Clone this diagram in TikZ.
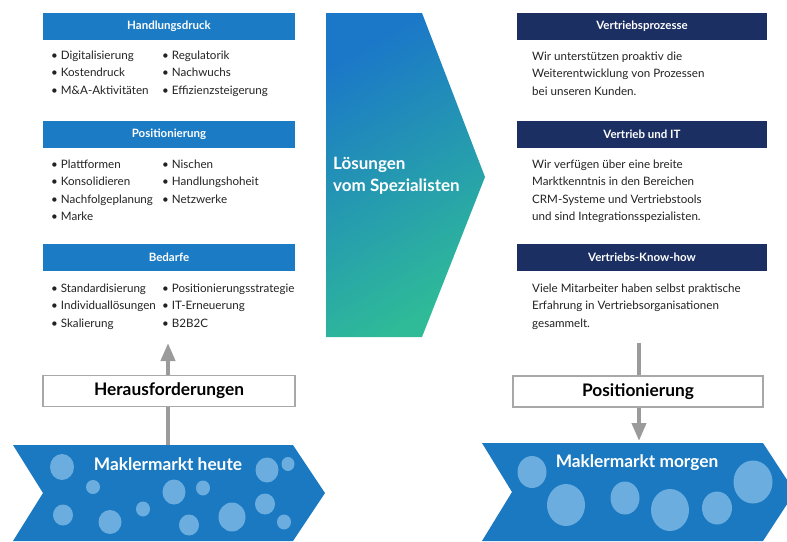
\documentclass[tikz,border=0pt]{standalone}
\usepackage{fontspec}
\setmainfont{Lato}
\usetikzlibrary{arrows.meta}

\definecolor{hdrblue}{HTML}{1B7BC4}
\definecolor{navy}{HTML}{1C2F63}
\definecolor{chevblue}{HTML}{1A79C0}
\definecolor{bubble}{HTML}{6CADE0}
\definecolor{gradtop}{HTML}{1B78C8}
\definecolor{gradbot}{HTML}{2FBB98}
\definecolor{txt}{HTML}{222222}
\definecolor{arrowgray}{HTML}{9B9B9B}
\definecolor{boxgray}{HTML}{A8A8A8}

\begin{document}
\begin{tikzpicture}[x=1pt,y=-1pt,
  hdr/.style={fill=hdrblue, text=white, inner sep=0pt, minimum height=27pt,
    font=\bfseries\fontsize{11.5}{13}\selectfont},
  hdrdark/.style={hdr, fill=navy},
  lst/.style={anchor=north west, inner sep=0pt, align=left, text=txt,
    font=\fontsize{11.6}{17.2}\selectfont},
  bigbox/.style={draw=boxgray, line width=1.5pt, fill=white, inner sep=0pt,
    minimum height=31pt, text=black, font=\bfseries\fontsize{17.3}{19}\selectfont},
  chevtext/.style={text=white, inner sep=0pt, font=\bfseries\fontsize{17.3}{19}\selectfont},
  flow/.style={draw=arrowgray, line width=4pt,
    -{Triangle[length=18pt,width=14pt]}},
  dot/.style={fill=bubble}
]
\useasboundingbox (0,0) rectangle (787,541);

% ---------- left column: challenges ----------
\node[hdr, minimum width=252pt] (hd) at (169,26) {Handlungsdruck};
\node[lst] (hdl) at (51,51) {• Digitalisierung\\• Kostendruck\\• M\&A-Aktivitäten};
\node[lst] (hdr) at (162,51) {• Regulatorik\\• Nachwuchs\\• Effizienzsteigerung};

\node[hdr, minimum width=252pt] (po) at (169,134) {Positionierung};
\node[lst] (pol) at (51,160) {• Plattformen\\• Konsolidieren\\• Nachfolgeplanung\\• Marke};
\node[lst] (por) at (162,160) {• Nischen\\• Handlungshoheit\\• Netzwerke};

\node[hdr, minimum width=252pt] (be) at (169,257) {Bedarfe};
\node[lst] (bel) at (51,284) {• Standardisierung\\• Individuallösungen\\• Skalierung};
\node[lst] (ber) at (162,284) {• Positionierungsstrategie\\• IT-Erneuerung\\• B2B2C};

% ---------- market today ----------
\coordinate (heute-top) at (168,445);
\coordinate (bedarfe-end) at (168,343);
\fill[chevblue] (13,445) -- (293,445) -- (325,493) -- (293,541) -- (13,541) -- (43,493) -- cycle;
\foreach \cx/\cy/\rx/\ry in {62/467/12/13, 93/487/7/7, 63/515/10/10.5, 110/522/11.5/12,
  143/509/7/7.5, 174/492/11.5/12.5, 203/488/7/7.5, 189/525/10/10.5, 232/517/13.5/14.5,
  267/470/11.5/12.5, 288/464/6.5/7, 265/504/10/10.5, 284/522/7/7.5}
  \fill[dot] (\cx,\cy) ellipse [x radius=\rx, y radius=\ry];
\node[chevtext] (heute) at (168,464) {Maklermarkt heute};

\draw[flow] (heute-top) -- (bedarfe-end);
\node[bigbox, minimum width=252pt] (her) at (169,391) {Herausforderungen};

% ---------- centre: solutions ----------
\shade[top color=gradtop, bottom color=gradbot, shading angle=30]
  (326,13) -- (422,13) -- (485,177) -- (422,337) -- (326,337) -- cycle;
\node[chevtext, anchor=west, align=left, font=\bfseries\fontsize{17}{22}\selectfont]
  (loes) at (333,176) {Lösungen\\vom Spezialisten};

% ---------- right column: offer ----------
\node[hdrdark, minimum width=250pt] (vp) at (642,26) {Vertriebsprozesse};
\node[lst] (vpt) at (532,52) {Wir unterstützen proaktiv die\\Weiterentwicklung von Prozessen\\bei unseren Kunden.};

\node[hdrdark, minimum width=250pt] (vi) at (642,134) {Vertrieb und IT};
\node[lst] (vit) at (532,160) {Wir verfügen über eine breite\\Marktkenntnis in den Bereichen\\CRM-Systeme und Vertriebstools\\und sind Integrationsspezialisten.};

\node[hdrdark, minimum width=250pt] (vk) at (642,257.5) {Vertriebs-Know-how};
\node[lst] (vkt) at (532,284) {Viele Mitarbeiter haben selbst praktische\\Erfahrung in Vertriebsorganisationen\\gesammelt.};

% ---------- market tomorrow ----------
\coordinate (know-end) at (639,343);
\coordinate (morgen-top) at (639,441);
\fill[chevblue] (482,443) -- (763,443) -- (795,492) -- (763,541) -- (482,541) -- (512,492) -- cycle;
\foreach \cx/\cy/\rx/\ry in {532/472/14.5/16, 566/505/19/21, 625/498/14.5/16.5,
  670/510/19/21, 717/508/15/16.5, 753/482/19.5/21.5}
  \fill[dot] (\cx,\cy) ellipse [x radius=\rx, y radius=\ry];
\node[chevtext] (morgen) at (637,463) {Maklermarkt morgen};

\draw[flow] (know-end) -- (morgen-top);
\node[bigbox, minimum width=250pt] (pos) at (638,391.5) {Positionierung};
\end{tikzpicture}
\end{document}
